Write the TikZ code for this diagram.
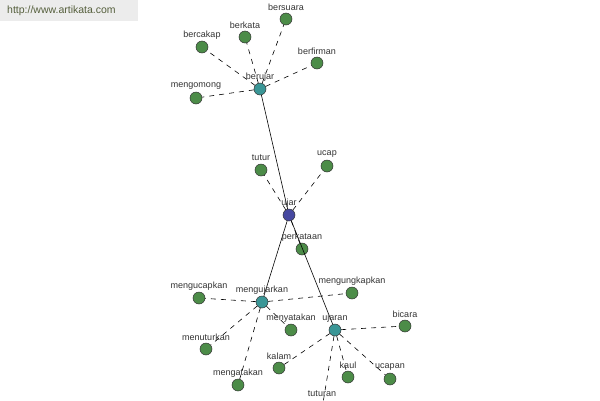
\documentclass[tikz,border=0pt]{standalone}
\usepackage{fontspec}
\setmainfont{Liberation Sans}
\definecolor{leafc}{RGB}{76,140,72}
\definecolor{hubc}{RGB}{58,150,150}
\definecolor{rootc}{RGB}{70,72,160}
\definecolor{wmtext}{RGB}{85,95,60}
\definecolor{wmbg}{RGB}{236,236,236}
\tikzset{
  dot/.style={circle,draw=black!80,line width=0.5pt,minimum size=12pt,inner sep=0pt},
  leaf/.style={dot,fill=leafc},
  hub/.style={dot,fill=hubc},
  root/.style={dot,fill=rootc},
  lbl/.style={font=\fontsize{9}{10}\selectfont,text=black!80,inner sep=0pt},
  rel/.style={draw=black,line width=0.6pt,dash pattern=on 5pt off 5pt},
  main/.style={draw=black,line width=0.6pt}
}
\begin{document}
\begin{tikzpicture}[x=1pt,y=-1pt]
\useasboundingbox (0,0) rectangle (600,400);
\fill[white] (0,0) rectangle (600,400);
\fill[wmbg] (0,0) rectangle (138,21);
\node[anchor=west,text=wmtext,font=\fontsize{10.5}{12}\selectfont,inner sep=0pt] (wm) at (7,11) {http://www.artikata.com};

% nodes
\node[hub] (berujar) at (260,89) {};
\node[leaf] (bersuara) at (286,19) {};
\node[leaf] (berkata) at (245,37) {};
\node[leaf] (bercakap) at (202,47) {};
\node[leaf] (berfirman) at (317,63) {};
\node[leaf] (mengomong) at (196,98) {};
\node[root] (ujar) at (289,215) {};
\node[leaf] (tutur) at (261,170) {};
\node[leaf] (ucap) at (327,166) {};
\node[leaf] (perkataan) at (302,249) {};
\node[hub] (mengujarkan) at (262,302) {};
\node[leaf] (mengucapkan) at (199,298) {};
\node[leaf] (mengungkapkan) at (352,293) {};
\node[leaf] (menyatakan) at (291,330) {};
\node[leaf] (menuturkan) at (206,349) {};
\node[leaf] (mengatakan) at (238,385) {};
\node[hub] (ujaran) at (335,330) {};
\node[leaf] (bicara) at (405,326) {};
\node[leaf] (kalam) at (279,368) {};
\node[leaf] (kaul) at (348,377) {};
\node[leaf] (ucapan) at (390,379) {};
\node[leaf] (tuturan) at (322,409) {};

% edges
\foreach \a/\b in {berujar/bersuara,berujar/berkata,berujar/bercakap,berujar/berfirman,berujar/mengomong,
  ujar/tutur,ujar/ucap,ujar/perkataan,
  mengujarkan/mengucapkan,mengujarkan/mengungkapkan,mengujarkan/menyatakan,mengujarkan/menuturkan,mengujarkan/mengatakan,
  ujaran/bicara,ujaran/kalam,ujaran/kaul,ujaran/ucapan,ujaran/tuturan}
  \path[rel] (\a) -- (\b);
\path[main] (berujar) -- (ujar);
\path[main] (ujar) -- (mengujarkan);
\path[main] (ujar) -- (ujaran);

% labels
\foreach \n/\t in {berujar/berujar,bersuara/bersuara,berkata/berkata,bercakap/bercakap,berfirman/berfirman,mengomong/mengomong,
  ujar/ujar,tutur/tutur,ucap/ucap,perkataan/perkataan,mengujarkan/mengujarkan,mengucapkan/mengucapkan,
  mengungkapkan/mengungkapkan,menyatakan/menyatakan,menuturkan/menuturkan,mengatakan/mengatakan,
  ujaran/ujaran,bicara/bicara,kalam/kalam,kaul/kaul,ucapan/ucapan}
  \node[lbl] (l-\n) at ([yshift=12pt]\n.center) {\t};
\node[lbl] (l-tuturan) at ([yshift=15pt]tuturan.center) {tuturan};
\end{tikzpicture}
\end{document}
